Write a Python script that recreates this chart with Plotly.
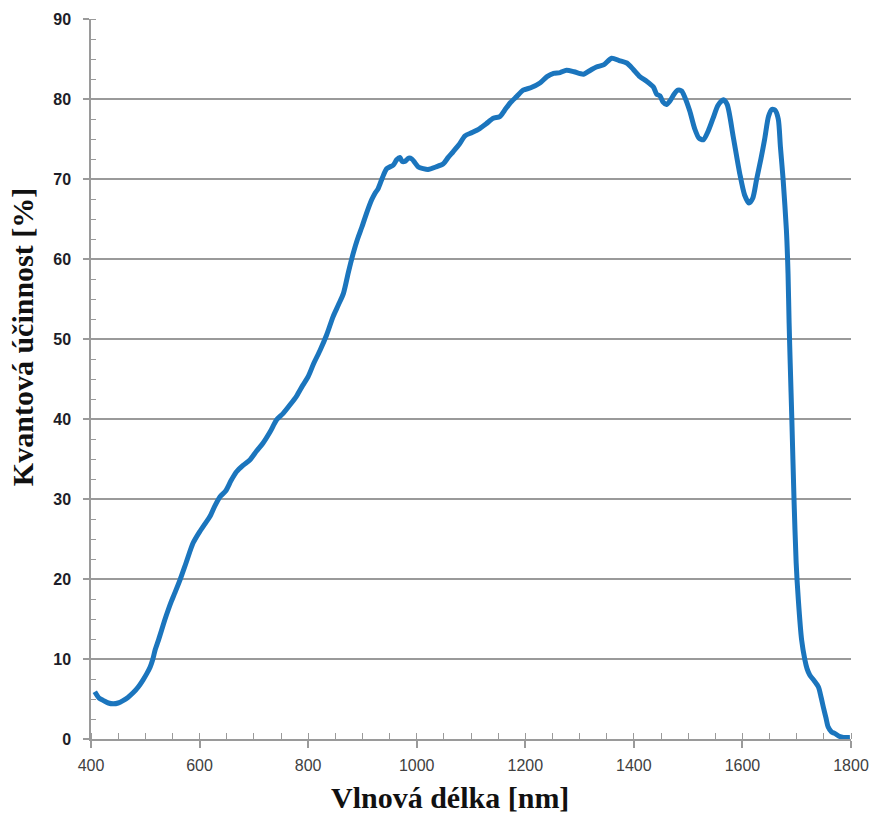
import plotly.graph_objects as go

# Quantum efficiency curve of an InGaAs sensor
wavelength_nm = [
    407, 415, 423, 432, 441, 450, 459, 468, 478, 487, 496, 503, 509, 514, 518,
    524, 530, 536, 542, 548, 554, 564, 575, 588, 600, 610, 619, 628, 638, 648,
    658, 668, 680, 693, 705, 717, 730, 742, 754, 767, 779, 790, 800, 810, 822,
    834, 846, 856, 865, 874, 883, 891, 899, 908, 917, 923, 929, 937, 945, 957,
    963, 969, 973, 978, 985, 991, 997, 1003, 1012, 1021, 1035, 1049, 1058, 1067,
    1078, 1089, 1102, 1116, 1128, 1141, 1153, 1162, 1172, 1184, 1196, 1210, 1227,
    1240, 1252, 1264, 1276, 1290, 1307, 1320, 1331, 1345, 1359, 1373, 1387, 1399,
    1411, 1424, 1436, 1442, 1448, 1454, 1460, 1467, 1474, 1481, 1488, 1494, 1503,
    1512, 1520, 1528, 1537, 1546, 1555, 1565, 1572, 1583, 1595, 1604, 1612, 1619,
    1626, 1634, 1641, 1648, 1654, 1660, 1666, 1670, 1675, 1681, 1684, 1686, 1688,
    1691, 1695, 1699, 1703, 1709, 1715, 1719, 1724, 1732, 1740, 1745, 1749, 1754,
    1758, 1764, 1770, 1778, 1786, 1798,
]
efficiency_pct = [
    5.9, 5.1, 4.8, 4.5, 4.4, 4.5, 4.8, 5.2, 5.8, 6.5, 7.4, 8.2, 9.0, 10.0, 11.1,
    12.3, 13.6, 14.9, 16.1, 17.2, 18.2, 19.9, 22.0, 24.5, 25.9, 26.9, 27.8, 29.1, 30.3, 31.0,
    32.3, 33.4, 34.2, 34.9, 36.0, 37.0, 38.4, 39.9, 40.7, 41.8, 42.9, 44.2, 45.3, 46.9, 48.6,
    50.5, 52.8, 54.3, 55.7, 58.3, 60.7, 62.5, 64.0, 65.8, 67.4, 68.2, 68.8, 70.2, 71.3, 71.75,
    72.4, 72.7, 72.2, 72.2, 72.6, 72.5, 72.0, 71.5, 71.3, 71.2, 71.5, 71.9, 72.7, 73.4,
    74.3, 75.4, 75.8, 76.3, 76.9, 77.6, 77.8, 78.6, 79.5, 80.3, 81.1, 81.4, 82.0,
    82.8, 83.2, 83.3, 83.6, 83.4, 83.1, 83.6, 84.0, 84.3, 85.1, 84.8, 84.5, 83.7,
    82.8, 82.2, 81.5, 80.6, 80.4, 79.6, 79.3, 79.8, 80.6, 81.1, 81.0, 80.2, 78.5,
    76.3, 75.1, 74.9, 76.0, 77.6, 79.2, 79.9, 79.3, 75.3, 70.7, 68.0, 67.0, 67.6,
    69.9, 72.5, 75.0, 77.8, 78.7, 78.6, 77.5, 74.0, 69.9, 63.6, 58.2, 52.0, 47.0,
    40.0, 30.0, 22.0, 17.4, 12.4, 9.9, 8.8, 8.0, 7.3, 6.5, 5.2, 4.0, 2.6,
    1.5, 0.9, 0.7, 0.35, 0.2, 0.2,
]

x_ticks = [400, 600, 800, 1000, 1200, 1400, 1600, 1800]
y_ticks = [0, 10, 20, 30, 40, 50, 60, 70, 80, 90]

x_title = "Vlnová délka [nm]"
y_title = "Kvantová účinnost [%]"

axis_grey = "#9a9a9a"

fig = go.Figure()
fig.add_trace(go.Scatter(
    x=wavelength_nm,
    y=efficiency_pct,
    mode="lines",
    line=dict(color="#1b75bd", width=5, shape="spline", smoothing=0.7),
    hoverinfo="x+y",
    showlegend=False,
))

fig.update_layout(
    width=873,
    height=816,
    margin=dict(l=91, r=22, t=19, b=77, autoexpand=False),
    paper_bgcolor="white",
    plot_bgcolor="white",
    xaxis=dict(
        range=[400, 1800],
        tickvals=x_ticks,
        ticktext=[str(v) for v in x_ticks],
        automargin=False,
        showgrid=False,
        zeroline=False,
        showline=True,
        linecolor=axis_grey,
        linewidth=1.5,
        ticks="outside",
        ticklen=7,
        tickwidth=1.5,
        tickcolor=axis_grey,
        ticklabelstandoff=4,
        ticklabeloverflow="allow",
        tickfont=dict(family="Liberation Sans, Arial, sans-serif", size=16, color="#404040"),
        minor=dict(dtick=50, ticks="inside", ticklen=6, tickwidth=1.2,
                   tickcolor=axis_grey, showgrid=False),
    ),
    yaxis=dict(
        range=[0, 90],
        tickvals=y_ticks,
        ticktext=[str(v) for v in y_ticks],
        automargin=False,
        showgrid=True,
        gridcolor=axis_grey,
        gridwidth=1.5,
        zeroline=False,
        showline=True,
        linecolor=axis_grey,
        linewidth=1.5,
        ticks="outside",
        ticklen=6,
        tickwidth=1.5,
        tickcolor=axis_grey,
        ticklabelstandoff=9,
        tickfont=dict(family="Liberation Sans, Arial, sans-serif", size=16, color="#1e1e28",
                      weight="bold"),
        minor=dict(dtick=2.5, ticks="inside", ticklen=5, tickwidth=1.2,
                   tickcolor=axis_grey, showgrid=False),
    ),
    annotations=[
        dict(
            text=x_title, xref="paper", yref="paper",
            x=0.472, y=-0.0806, xanchor="center", yanchor="middle",
            showarrow=False,
            font=dict(family="Liberation Serif, Times New Roman, serif", size=30,
                      color="#111111", weight="bold"),
        ),
        dict(
            text=y_title, xref="paper", yref="paper",
            x=-0.09, y=0.5576, xanchor="center", yanchor="middle",
            textangle=-90, showarrow=False,
            font=dict(family="Liberation Serif, Times New Roman, serif", size=30,
                      color="#111111", weight="bold"),
        ),
    ],
)

fig.write_html("out.html")
